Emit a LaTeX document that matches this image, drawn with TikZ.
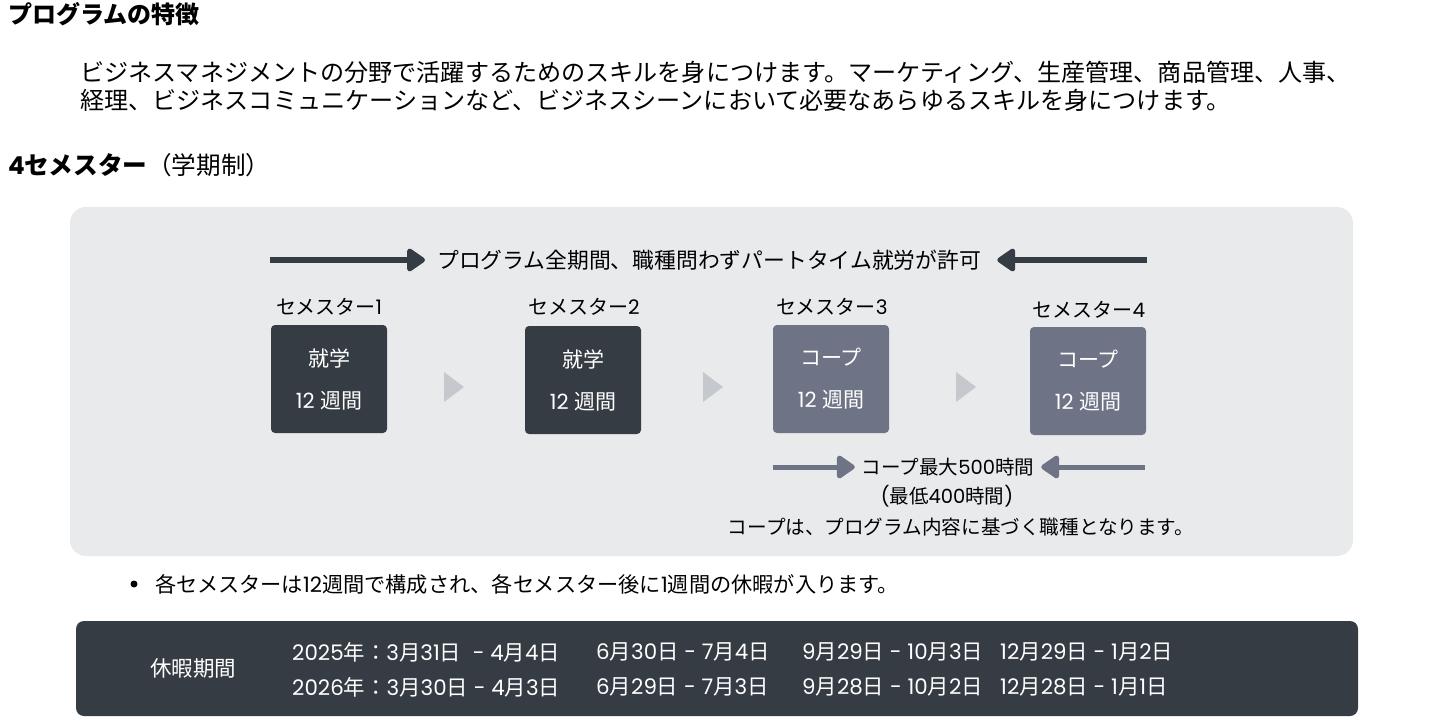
\documentclass[tikz,border=0pt]{standalone}
\usepackage{fontspec}
\setmainfont{Noto Sans CJK JP}
\newfontfamily\latinfont{Poppins}
\newcommand{\lat}[1]{{\latinfont #1}}
\usetikzlibrary{positioning,calc,arrows.meta}
\definecolor{panelgray}{HTML}{E9EAEC}
\definecolor{darkslate}{HTML}{363C44}
\definecolor{coopgray}{HTML}{6E7386}
\definecolor{stepgray}{HTML}{C5C8CC}
\tikzset{
  semester/.style={rounded corners=4pt, minimum width=116pt, minimum height=108pt, align=center, text=white, inner sep=0pt, font=\fontsize{21}{28}\selectfont},
  study/.style={semester, fill=darkslate},
  coop/.style={semester, fill=coopgray},
  semlabel/.style={font=\fontsize{20}{23}\selectfont},
  bigarrow/.style={line width=6pt, -{Triangle[length=20pt,width=26pt,round]}},
  datecell/.style={anchor=west, text=white, inner sep=0pt, font=\fontsize{21.4}{23}\selectfont},
}

\begin{document}
\begin{tikzpicture}[x=1pt, y=-1pt, every node/.style={font=\fontsize{20}{24}\selectfont}]
    \useasboundingbox (0,0) rectangle (1430,728);

    % Heading and intro text
    \node[anchor=west, inner sep=0pt, font=\fontsize{24}{26}\selectfont\bfseries] (title) at (8,14) {プログラムの特徴};
    \node[anchor=west, inner sep=0pt, font=\fontsize{24.1}{26}\selectfont] (introA) at (80,72) {ビジネスマネジメントの分野で活躍するためのスキルを身につけます。マーケティング、生産管理、商品管理、人事、};
    \node[anchor=west, inner sep=0pt, font=\fontsize{24.1}{26}\selectfont] (introB) at (80,100) {経理、ビジネスコミュニケーションなど、ビジネスシーンにおいて必要なあらゆるスキルを身につけます。};
    \node[anchor=west, inner sep=0pt, font=\fontsize{24.6}{26}\selectfont] (terms) at (8,165) {\textbf{\lat{4}セメスター}（学期制）};

    % Gray panel
    \fill[panelgray, rounded corners=16pt] (70,207) rectangle (1353,556);

    % Part-time work arrows
    \node[anchor=west, inner sep=0pt, font=\fontsize{21.8}{24}\selectfont] (allow) at (437,260) {プログラム全期間、職種問わずパートタイム就労が許可};
    \coordinate (allowL) at (270,260);
    \coordinate (allowR) at (1147,260);
    \draw[bigarrow, darkslate, shorten >=12pt] (allowL) -- (allow.west);
    \draw[bigarrow, darkslate, shorten >=16pt] (allowR) -- (allow.east);

    % Semester boxes
    \node[study] (s1) at (329,379) {就学\\[14pt]\lat{12 }週間};
    \node[study] (s2) at (583,380) {就学\\[14pt]\lat{12 }週間};
    \node[coop] (s3) at (831,379) {コープ\\[14pt]\lat{12 }週間};
    \node[coop] (s4) at (1088,381) {コープ\\[14pt]\lat{12 }週間};

    % Semester labels
    \node[semlabel] (l1) at (329,307) {セメスター\lat{1}};
    \node[semlabel] (l2) at (584,307) {セメスター\lat{2}};
    \node[semlabel] (l3) at (832,307) {セメスター\lat{3}};
    \node[semlabel] (l4) at (1089,310) {セメスター\lat{4}};

    % Small step triangles
    \coordinate (t1) at (454,387);
    \coordinate (t2) at (713,387);
    \coordinate (t3) at (966,387);
    \fill[stepgray] ($(t1)+(-10,-15)$) -- ($(t1)+(10,0)$) -- ($(t1)+(-10,15)$) -- cycle;
    \fill[stepgray] ($(t2)+(-10,-15)$) -- ($(t2)+(10,0)$) -- ($(t2)+(-10,15)$) -- cycle;
    \fill[stepgray] ($(t3)+(-10,-15)$) -- ($(t3)+(10,0)$) -- ($(t3)+(-10,15)$) -- cycle;

    % Co-op hours
    \node[font=\fontsize{19.5}{23}\selectfont, inner sep=0pt] (hours) at (948,467) {コープ最大\lat{500}時間};
    \node[font=\fontsize{19.5}{23}\selectfont, inner sep=0pt] (minhours) at (947,496) {\lat{(}最低\lat{400}時間\lat{)}};
    \node[font=\fontsize{19.6}{23}\selectfont, inner sep=0pt] (coopnote) at (961,527) {コープは、プログラム内容に基づく職種となります。};
    \coordinate (hoursL) at (773,467);
    \coordinate (hoursR) at (1145,467);
    \draw[bigarrow, coopgray, line width=5pt, shorten >=7pt] (hoursL) -- (hours.west);
    \draw[bigarrow, coopgray, line width=5pt, shorten >=7pt] (hoursR) -- (hours.east);

    % Bullet note
    \node[circle, fill=black, inner sep=0pt, minimum size=7pt] (dot) at (134,584) {};
    \node[anchor=west, inner sep=0pt, font=\fontsize{21.2}{24}\selectfont] (note) at (155,584) {各セメスターは\lat{12}週間で構成され、各セメスター後に\lat{1}週間の休暇が入ります。};

    % Holiday panel
    \fill[darkslate, rounded corners=8pt] (76,621) rectangle (1358,716);
    \node[text=white, inner sep=0pt, font=\fontsize{21.5}{24}\selectfont] (holiday) at (193,668) {休暇期間};
    \node[datecell] (a1) at (292,652) {\lat{2025}年：\lat{3}月\lat{31}日\lat{ \ - 4}月\lat{4}日};
    \node[datecell] (a2) at (596,652) {\lat{6}月\lat{30}日\lat{ - 7}月\lat{4}日};
    \node[datecell] (a3) at (802,652) {\lat{9}月\lat{29}日\lat{ - 10}月\lat{3}日};
    \node[datecell] (a4) at (1000,652) {\lat{12}月\lat{29}日\lat{ - 1}月\lat{2}日};
    \node[datecell] (b1) at (292,687) {\lat{2026}年：\lat{3}月\lat{30}日\lat{ - 4}月\lat{3}日};
    \node[datecell] (b2) at (596,687) {\lat{6}月\lat{29}日\lat{ - 7}月\lat{3}日};
    \node[datecell] (b3) at (802,687) {\lat{9}月\lat{28}日\lat{ - 10}月\lat{2}日};
    \node[datecell] (b4) at (1000,687) {\lat{12}月\lat{28}日\lat{ - 1}月\lat{1}日};
\end{tikzpicture}
\end{document}
